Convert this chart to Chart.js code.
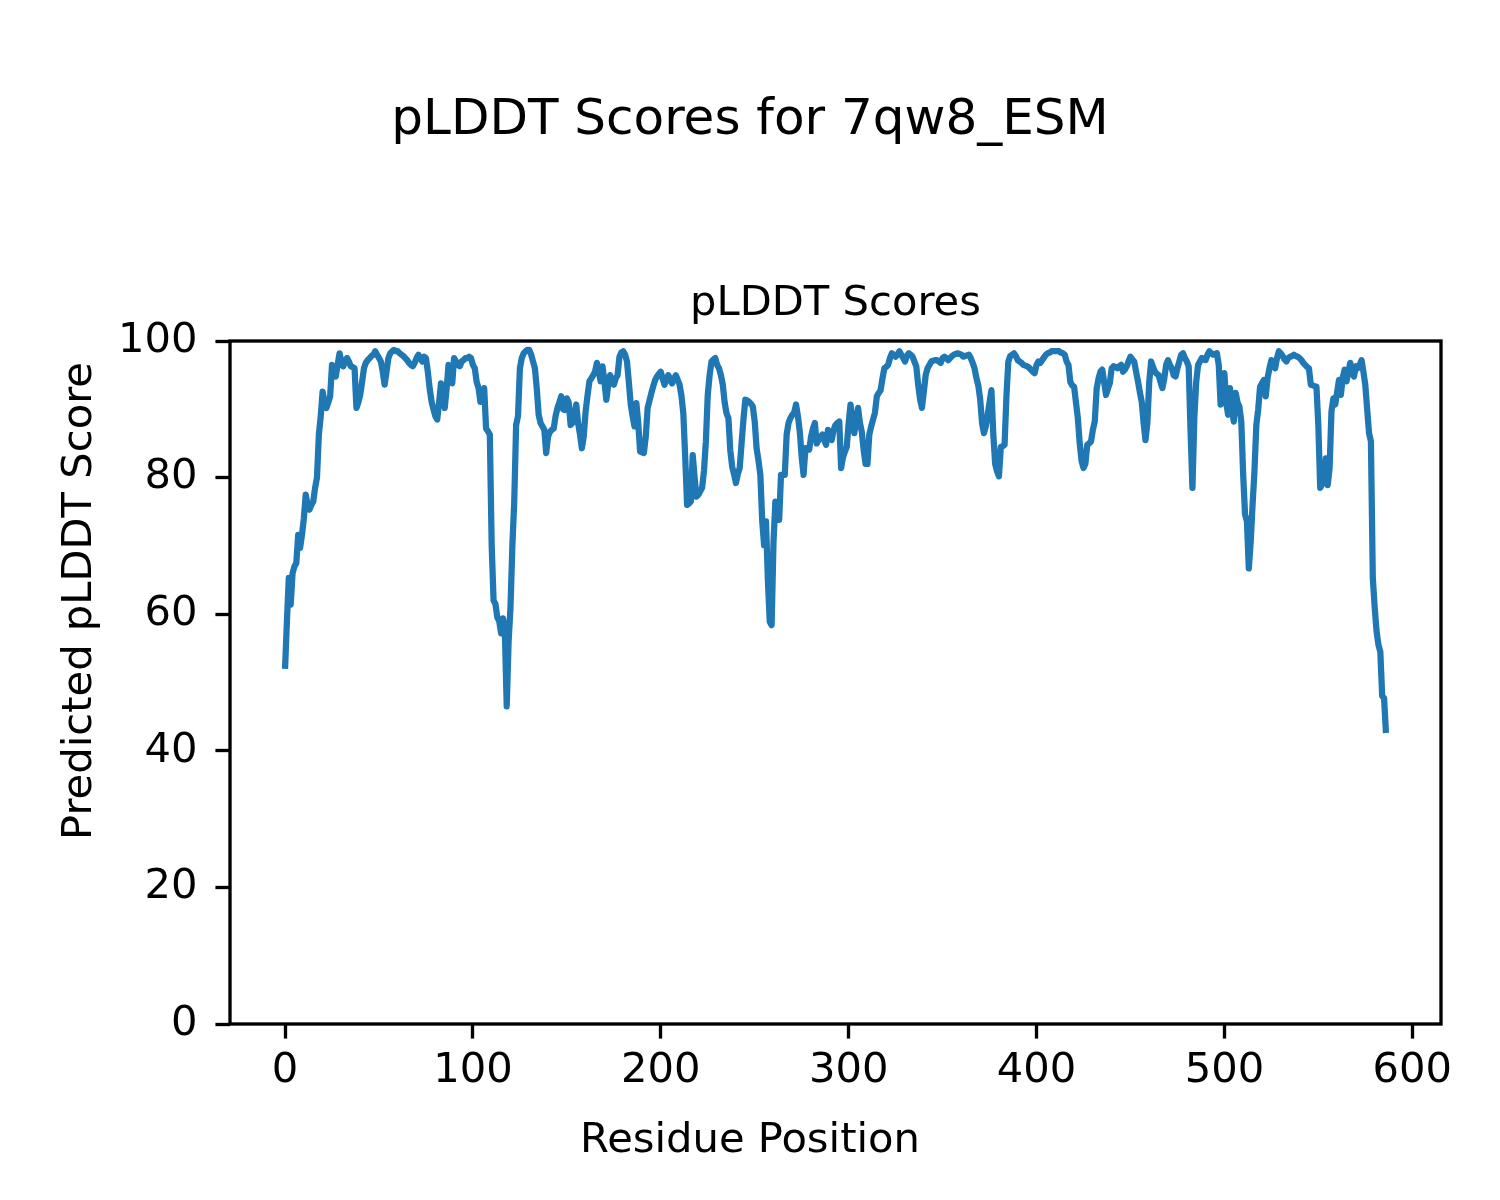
<!DOCTYPE html>
<html>
<head>
<meta charset="utf-8">
<script src="https://cdn.jsdelivr.net/npm/chart.js@4"></script>
<style>
  html, body { margin: 0; padding: 0; background: #ffffff; }
  #wrap { width: 1500px; height: 1200px; }
</style>
</head>
<body>
<div id="wrap"><canvas id="c" width="1500" height="1200"></canvas></div>
<script>
// ---- Data ----
const figureTitle = "pLDDT Scores for 7qw8_ESM";
const axesTitle = "pLDDT Scores";
const xLabel = "Residue Position";
const yLabel = "Predicted pLDDT Score";
const xTickValues = [0, 100, 200, 300, 400, 500, 600];
const yTickValues = [0, 20, 40, 60, 80, 100];

const plddt = [
  52, 59, 65.3, 61.4, 66, 67, 67.5, 71.6, 69.7, 71.6,
  74, 77.5, 76, 75.3, 76, 76.5, 78.5, 80, 86.3, 89,
  92.6, 91, 90.2, 91, 91.9, 96.5, 95.5, 94.8, 96.5, 98.2,
  97, 96.3, 97, 97.5, 97, 96.3, 96.2, 96, 90.2, 91,
  92.1, 94, 96, 96.8, 97.2, 97.5, 97.8, 98, 98.5, 98,
  97.5, 97, 95.5, 93.6, 95.5, 97.5, 98.2, 98.5, 98.7, 98.5,
  98.5, 98.2, 98, 97.8, 97.5, 97.2, 96.8, 96.5, 96.3, 96.8,
  97.5, 98, 97.5, 97, 97.7, 97.5, 95.5, 93, 91.1, 90,
  89, 88.5, 91, 93.8, 92, 90.2, 93, 96.5, 95, 93.8,
  97.5, 97, 96.5, 96.3, 97, 97.2, 97.5, 97.5, 97.7, 97.5,
  96.5, 96, 94, 93.1, 91.1, 92, 93.1, 87.2, 86.8, 86.3,
  70, 62, 61.5, 59.5, 59, 57.2, 59.4, 57.5, 46.5, 56,
  61, 70, 76.5, 87.7, 89, 96, 97.5, 98.2, 98.5, 98.7,
  98.7, 98, 97, 96, 93, 89.2, 88, 87.5, 87, 83.6,
  86, 86.7, 87, 87.2, 89, 90.2, 91, 91.9, 90, 89.9,
  91.6, 91, 87.7, 88, 89.2, 90.7, 88, 86.3, 84.3, 86,
  89.7, 92, 94.1, 94.5, 95, 95.5, 96.8, 95.5, 94.1, 96.3,
  94, 91.4, 93.5, 95, 94.3, 93.6, 94.5, 95, 97.7, 98.3,
  98.5, 98, 97, 94, 90.7, 89, 87.5, 90.9, 88, 83.8,
  83.7, 83.6, 86, 90.2, 91.3, 92.4, 93.4, 94.3, 94.8, 95.2,
  95.5, 94.5, 93.6, 94.3, 95, 94.4, 93.8, 94.5, 95, 94.3,
  93.6, 92, 89.4, 83, 76, 76.2, 76.5, 83.3, 80, 77.2,
  77.5, 78, 78.5, 81, 85.3, 92.1, 95, 97, 97.3, 97.5,
  96.5, 96, 95, 93.6, 91, 89.4, 88.7, 84, 81.6, 80.5,
  79.2, 80.5, 81.4, 85, 88.5, 91.4, 91.3, 91.1, 90.8, 90.4,
  88.2, 84.3, 82.5, 80.4, 73.6, 70.1, 73.6, 65, 58.9, 58.4,
  70.6, 76.5, 75, 73.8, 80.4, 80.4, 80.4, 86.3, 88, 88.7,
  89.2, 89.5, 90.7, 89, 86.7, 83, 80.4, 84.3, 84.2, 84.1,
  86, 87.2, 88, 85, 85.5, 86, 86.3, 85.5, 84.8, 87,
  86, 85.5, 87, 87.7, 88, 88.2, 81.4, 83, 83.8, 84.5,
  88, 90.7, 88, 86.5, 88.5, 90.2, 88, 86.7, 84, 82,
  82, 86.3, 87.5, 88.5, 89.5, 91.9, 92.4, 92.8, 94.5, 96,
  96.2, 96.5, 97.5, 98.2, 98, 97.7, 98, 98.5, 98, 97.5,
  97, 97.8, 98.2, 98, 97.7, 97, 96.3, 93.6, 91.5, 90.2,
  92.5, 95, 96, 96.5, 97, 97.1, 97.2, 97.2, 97, 96.8,
  97.5, 97.7, 97.5, 97.2, 97.5, 97.8, 98, 98.1, 98.2, 98.1,
  98, 97.7, 97.8, 97.9, 98, 97.5, 96.8, 96, 94.6, 93.5,
  91.5, 88, 86.5, 87.5, 89.2, 91, 92.8, 86.3, 82, 80.9,
  80.2, 84.5, 84.6, 84.8, 92, 97, 97.8, 98, 98.2, 97.8,
  97.2, 97, 96.8, 96.5, 96.4, 96.3, 96.1, 95.8, 95.5, 95.3,
  96.5, 97, 96.8, 97.2, 97.6, 98, 98.2, 98.3, 98.5, 98.5,
  98.5, 98.5, 98.5, 98.3, 98.2, 98, 97, 96.5, 94, 93.5,
  93.3, 91, 88.7, 85, 82.4, 81.4, 82, 84.8, 85, 85.3,
  87, 88.2, 93, 94.5, 95.5, 95.8, 94, 92.1, 93, 93.8,
  96, 96.3, 96.2, 96, 96.3, 96.5, 95.5, 95.8, 96.3, 97,
  97.7, 97.3, 97, 95.5, 94.1, 92.5, 91.1, 88, 85.5, 88,
  94, 97, 96.2, 95.5, 95.2, 95, 94, 93.1, 94.5, 96.5,
  97.2, 96.5, 96, 95, 94.8, 96, 97, 98, 98.2, 97.5,
  97, 96.3, 86.7, 78.5, 88.7, 94, 96.5, 97, 97.5, 97.3,
  97.2, 98, 98.5, 98.2, 98, 98.1, 98.2, 96.5, 90.7, 93,
  95.3, 90.9, 89.2, 93.1, 90, 88.2, 92.4, 91, 90.4, 88.2,
  80.4, 74.6, 73.6, 66.7, 70.6, 76, 80.9, 87.7, 90, 93.3,
  93.8, 94.3, 91.9, 94.6, 96, 97.2, 96.5, 96, 97.5, 98.5,
  98.2, 97.8, 97.3, 97, 97.5, 97.7, 97.8, 98, 97.8, 97.7,
  97.5, 97.2, 96.8, 96.5, 96.2, 96, 93.6, 93.5, 93.4, 93.3,
  87.7, 78.5, 79, 79.4, 82.8, 78.9, 81.4, 89.7, 91.6, 90.7,
  92.5, 94.3, 92.1, 94.6, 95.8, 94.1, 95.5, 96.8, 95.5, 94.8,
  96.3, 96, 96.5, 97.2, 95.5, 93.6, 90, 86.5, 85.3, 65.3,
  61, 57.5, 55.5, 54.5, 48, 47.7, 42.6
];

// ---- Layout constants ----
const FONT = "'DejaVu Sans', 'Liberation Sans', sans-serif";
const PT = 300 / 72;           // matplotlib points -> px at dpi 300
const lineColor = '#1f77b4';

const points = plddt.map((v, i) => ({ x: i, y: v }));
const xPad = (plddt.length - 1) * 0.05;

const textPlugin = {
  id: 'mplText',
  afterDatasetsDraw(chart) {
    const ctx = chart.ctx;
    const a = chart.chartArea;
    ctx.save();
    ctx.strokeStyle = '#000000';
    ctx.lineWidth = 0.8 * PT;
    ctx.lineJoin = 'miter';
    ctx.strokeRect(a.left, a.top, a.right - a.left, a.bottom - a.top);
    ctx.restore();
  },
  afterDraw(chart) {
    const ctx = chart.ctx;
    const a = chart.chartArea;
    ctx.save();
    ctx.fillStyle = '#000000';
    ctx.textAlign = 'center';
    ctx.textBaseline = 'alphabetic';
    ctx.font = `${12 * PT}px ${FONT}`;
    ctx.fillText(figureTitle, 750, 134);
    ctx.font = `${10 * PT}px ${FONT}`;
    ctx.fillText(axesTitle, (a.left + a.right) / 2, 315);
    ctx.fillText(xLabel, 750, 1152);
    ctx.translate(91, 601);
    ctx.rotate(-Math.PI / 2);
    ctx.fillText(yLabel, 0, 0);
    ctx.restore();
  }
};

new Chart(document.getElementById('c'), {
  type: 'line',
  data: {
    datasets: [{
      data: points,
      borderColor: lineColor,
      backgroundColor: lineColor,
      borderWidth: 1.5 * PT,
      pointRadius: 0,
      pointHoverRadius: 0,
      tension: 0,
      fill: false,
      borderJoinStyle: 'round',
      borderCapStyle: 'butt'
    }]
  },
  options: {
    responsive: false,
    animation: false,
    devicePixelRatio: 1,
    events: [],
    layout: { padding: { left: 50, right: 59, top: 341, bottom: 26 } },
    plugins: {
      legend: { display: false },
      title: { display: false },
      tooltip: { enabled: false }
    },
    scales: {
      x: {
        type: 'linear',
        min: 0 - xPad,
        max: (plddt.length - 1) + xPad,
        afterBuildTicks(scale) { scale.ticks = xTickValues.map(v => ({ value: v })); },
        afterFit(scale) { scale.height = 150; },
        border: { display: false },
        grid: {
          drawOnChartArea: false,
          drawTicks: true,
          tickLength: 3.5 * PT,
          tickWidth: 0.8 * PT,
          tickColor: '#000000'
        },
        ticks: {
          color: '#000000',
          font: { family: FONT, size: 10 * PT },
          padding: 8,
          maxRotation: 0,
          autoSkip: false
        }
      },
      y: {
        type: 'linear',
        min: 0,
        max: 100,
        afterBuildTicks(scale) { scale.ticks = yTickValues.map(v => ({ value: v })); },
        afterFit(scale) { scale.width = 180; },
        border: { display: false },
        grid: {
          drawOnChartArea: false,
          drawTicks: true,
          tickLength: 3.5 * PT,
          tickWidth: 0.8 * PT,
          tickColor: '#000000'
        },
        ticks: {
          color: '#000000',
          font: { family: FONT, size: 10 * PT },
          padding: 18,
          autoSkip: false
        }
      }
    }
  },
  plugins: [textPlugin]
});
</script>
</body>
</html>
